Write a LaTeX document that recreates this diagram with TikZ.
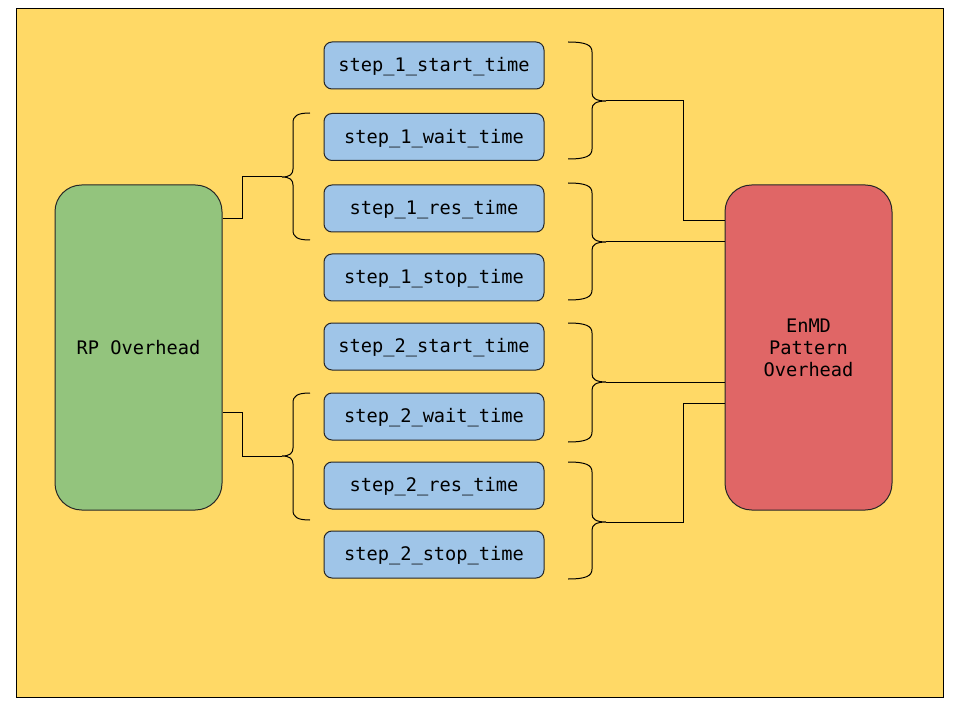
\documentclass[tikz,border=0pt]{standalone}
\usepackage{fontspec}
\setmonofont{DejaVu Sans Mono}
\definecolor{bgyellow}{HTML}{FFD966}
\definecolor{stepblue}{HTML}{9FC5E8}
\definecolor{rpgreen}{HTML}{93C47D}
\definecolor{enred}{HTML}{E06666}
\newcommand\RBr[3]{\draw[link] (568,#1) .. controls (586,#1) and (592,#1+3) .. (592,#1+10) -- (592,#2-8) .. controls (592,#2-3) and (596,#2) .. (606,#2) .. controls (596,#2) and (592,#2+3) .. (592,#2+8) -- (592,#3-10) .. controls (592,#3-3) and (586,#3) .. (568,#3);}
\newcommand\LBr[3]{\draw[link] (310,#1) .. controls (297,#1) and (293,#1+3) .. (293,#1+10) -- (293,#2-8) .. controls (293,#2-3) and (290,#2) .. (282,#2) .. controls (290,#2) and (293,#2+3) .. (293,#2+8) -- (293,#3-10) .. controls (293,#3-3) and (297,#3) .. (310,#3);}
\begin{document}
\begin{tikzpicture}[x=0.75pt,y=-0.75pt,
  every node/.style={font=\ttfamily\fontsize{14}{16.5}\selectfont},
  stepbox/.style={draw=black!85, fill=stepblue, rounded corners=6pt, minimum width=165pt, minimum height=35.25pt, inner sep=0pt, line width=0.75pt, text height=12.5pt, text depth=3.3pt},
  bigbox/.style={draw=black!85, rounded corners=20pt, minimum width=125.25pt, minimum height=243.75pt, inner sep=0pt, align=center, line width=0.75pt},
  link/.style={draw=black, line width=0.75pt},
]
\useasboundingbox (0,0) rectangle (960,720);
\draw[fill=bgyellow, line width=0.75pt] (16,9) rectangle (943,697);

\node[bigbox, fill=rpgreen] (rp) at (138.5,347.5) {RP Overhead};
\node[bigbox, fill=enred] (en) at (808.5,347.5) {EnMD\\Pattern\\Overhead};

\node[stepbox] (s1a) at (434,65.5) {step\_1\_start\_time};
\node[stepbox] (s1b) at (434,137) {step\_1\_wait\_time};
\node[stepbox] (s1c) at (434,208.5) {step\_1\_res\_time};
\node[stepbox] (s1d) at (434,277.5) {step\_1\_stop\_time};
\node[stepbox] (s2a) at (434,346.5) {step\_2\_start\_time};
\node[stepbox] (s2b) at (434,416.5) {step\_2\_wait\_time};
\node[stepbox] (s2c) at (434,485.5) {step\_2\_res\_time};
\node[stepbox] (s2d) at (434,554.5) {step\_2\_stop\_time};

\LBr{113}{177}{240}
\LBr{393}{456}{520}
\RBr{42}{101}{159}
\RBr{183}{242}{300}
\RBr{323}{382}{442}
\RBr{462}{522}{579}

\coordinate (l1) at (282,177);
\coordinate (l2) at (282,456);
\coordinate (r1) at (606,101);
\coordinate (r2) at (606,242);
\coordinate (r3) at (606,382);
\coordinate (r4) at (606,522);

\draw[link] (rp.east |- 0,219) -- (242,219) |- (l1);
\draw[link] (rp.east |- 0,412) -- (242,412) |- (l2);
\draw[link] (r1) -- (683,101) |- (en.west |- 0,221);
\draw[link] (r2) -- (en.west |- r2);
\draw[link] (r3) -- (en.west |- r3);
\draw[link] (r4) -- (683,522) |- (en.west |- 0,403);
\end{tikzpicture}
\end{document}
